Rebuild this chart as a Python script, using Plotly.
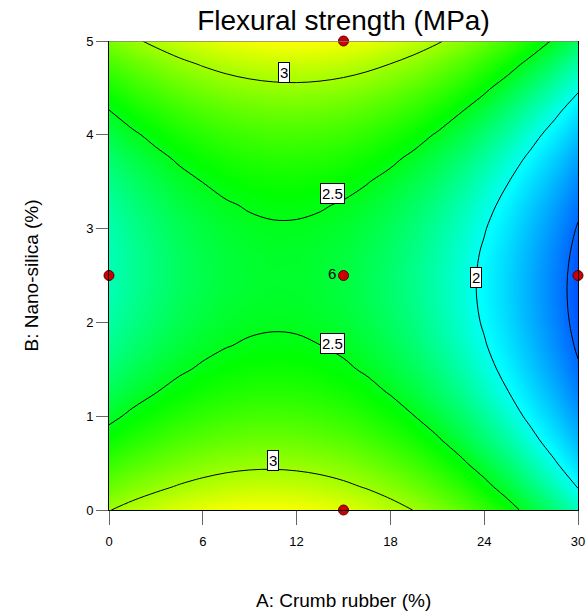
import plotly.graph_objects as go

# Factor grid (A: Crumb rubber %, B: Nano-silica %)
A_vals = [0, 1.5, 3, 4.5, 6, 7.5, 9, 10.5, 12, 13.5, 15,
          16.5, 18, 19.5, 21, 22.5, 24, 25.5, 27, 28.5, 30]
B_vals = [0, 0.25, 0.5, 0.75, 1, 1.25, 1.5, 1.75, 2, 2.25, 2.5,
          2.75, 3, 3.25, 3.5, 3.75, 4, 4.25, 4.5, 4.75, 5]

# Flexural strength (MPa); rows = B, cols = A
Z = [
    [2.993, 3.062, 3.118, 3.168, 3.206, 3.234, 3.249, 3.252, 3.242, 3.219, 3.183, 3.133, 3.071, 2.996, 2.908, 2.807, 2.693, 2.568, 2.431, 2.287, 2.130],
    [2.836, 2.905, 2.962, 3.013, 3.052, 3.081, 3.097, 3.100, 3.091, 3.069, 3.034, 2.985, 2.923, 2.849, 2.762, 2.661, 2.548, 2.424, 2.288, 2.145, 1.989],
    [2.694, 2.764, 2.822, 2.874, 2.914, 2.943, 2.960, 2.964, 2.955, 2.934, 2.900, 2.852, 2.791, 2.717, 2.631, 2.531, 2.419, 2.296, 2.161, 2.018, 1.863],
    [2.569, 2.640, 2.699, 2.752, 2.792, 2.822, 2.839, 2.844, 2.836, 2.816, 2.783, 2.735, 2.675, 2.602, 2.517, 2.418, 2.307, 2.185, 2.050, 1.908, 1.754],
    [2.460, 2.532, 2.591, 2.644, 2.685, 2.716, 2.734, 2.740, 2.733, 2.713, 2.681, 2.634, 2.575, 2.503, 2.419, 2.321, 2.210, 2.088, 1.954, 1.813, 1.660],
    [2.367, 2.439, 2.499, 2.553, 2.595, 2.627, 2.646, 2.652, 2.646, 2.627, 2.595, 2.549, 2.491, 2.420, 2.337, 2.239, 2.129, 2.008, 1.875, 1.735, 1.582],
    [2.289, 2.362, 2.423, 2.478, 2.520, 2.553, 2.573, 2.580, 2.575, 2.556, 2.525, 2.480, 2.423, 2.353, 2.270, 2.173, 2.064, 1.944, 1.812, 1.672, 1.520],
    [2.228, 2.302, 2.363, 2.419, 2.462, 2.495, 2.516, 2.524, 2.520, 2.502, 2.472, 2.428, 2.371, 2.302, 2.220, 2.124, 2.015, 1.896, 1.765, 1.626, 1.475],
    [2.182, 2.257, 2.319, 2.376, 2.420, 2.454, 2.475, 2.484, 2.480, 2.463, 2.434, 2.391, 2.335, 2.266, 2.185, 2.090, 1.982, 1.864, 1.733, 1.595, 1.445],
    [2.153, 2.229, 2.292, 2.349, 2.394, 2.429, 2.451, 2.460, 2.457, 2.441, 2.413, 2.371, 2.316, 2.248, 2.167, 2.073, 1.966, 1.848, 1.718, 1.581, 1.431],
    [2.139, 2.216, 2.280, 2.338, 2.383, 2.419, 2.442, 2.452, 2.450, 2.435, 2.407, 2.366, 2.312, 2.244, 2.164, 2.071, 1.965, 1.848, 1.718, 1.582, 1.433],
    [2.142, 2.219, 2.284, 2.343, 2.389, 2.426, 2.450, 2.461, 2.459, 2.445, 2.418, 2.377, 2.324, 2.257, 2.178, 2.085, 1.980, 1.864, 1.735, 1.600, 1.452],
    [2.160, 2.238, 2.304, 2.364, 2.411, 2.448, 2.473, 2.485, 2.484, 2.470, 2.444, 2.404, 2.352, 2.286, 2.207, 2.115, 2.011, 1.896, 1.768, 1.633, 1.486],
    [2.195, 2.274, 2.340, 2.401, 2.449, 2.487, 2.512, 2.525, 2.525, 2.512, 2.487, 2.448, 2.396, 2.331, 2.253, 2.162, 2.058, 1.944, 1.817, 1.683, 1.537],
    [2.245, 2.325, 2.392, 2.453, 2.502, 2.541, 2.567, 2.580, 2.581, 2.569, 2.545, 2.507, 2.456, 2.391, 2.314, 2.224, 2.121, 2.007, 1.881, 1.748, 1.603],
    [2.312, 2.392, 2.460, 2.522, 2.572, 2.612, 2.639, 2.653, 2.654, 2.643, 2.620, 2.582, 2.532, 2.468, 2.392, 2.303, 2.201, 2.088, 1.962, 1.830, 1.685],
    [2.394, 2.475, 2.544, 2.607, 2.657, 2.698, 2.726, 2.741, 2.743, 2.733, 2.710, 2.673, 2.624, 2.561, 2.485, 2.397, 2.296, 2.184, 2.059, 1.927, 1.783],
    [2.493, 2.575, 2.645, 2.708, 2.759, 2.800, 2.829, 2.845, 2.848, 2.839, 2.817, 2.781, 2.732, 2.670, 2.595, 2.507, 2.407, 2.296, 2.172, 2.041, 1.898],
    [2.607, 2.690, 2.761, 2.825, 2.877, 2.919, 2.948, 2.965, 2.969, 2.960, 2.939, 2.904, 2.856, 2.795, 2.721, 2.634, 2.534, 2.423, 2.300, 2.170, 2.028],
    [2.738, 2.822, 2.893, 2.958, 3.011, 3.054, 3.084, 3.101, 3.106, 3.098, 3.077, 3.043, 2.996, 2.936, 2.863, 2.776, 2.677, 2.567, 2.445, 2.316, 2.174],
    [2.885, 2.969, 3.041, 3.107, 3.160, 3.204, 3.235, 3.253, 3.258, 3.251, 3.231, 3.198, 3.152, 3.092, 3.020, 2.934, 2.836, 2.727, 2.605, 2.477, 2.336],
]

# Design points
pts_A = [0, 15, 15, 15, 30]
pts_B = [2.5, 0, 2.5, 5, 2.5]
pts_text = ["", "", "6", "", ""]

# Contour labels
lab_text = ["3", "2.5", "2", "2.5", "3"]
lab_A = [11.2, 14.3, 23.5, 14.3, 10.5]
lab_B = [4.66, 3.37, 2.48, 1.77, 0.53]

x_ticks = [0, 6, 12, 18, 24, 30]
y_ticks = [0, 1, 2, 3, 4, 5]

# colour stops in data units
zmin, zmax = 1.43, 3.26
stop_vals = [1.43, 1.98, 2.55, 3.26]
stop_cols = ["rgb(0,80,255)", "rgb(0,255,255)", "rgb(0,255,0)", "rgb(255,255,0)"]
cscale = [[(v - zmin) / (zmax - zmin), c] for v, c in zip(stop_vals, stop_cols)]

FONT = "Liberation Sans, Arial, sans-serif"
ML, MR, MT, MB = 109, 10, 41, 103

fig = go.Figure()
fig.add_trace(go.Heatmap(
    x=A_vals, y=B_vals, z=Z, zsmooth="best", colorscale=cscale,
    zmin=zmin, zmax=zmax, showscale=False, hoverinfo="skip"))
fig.add_trace(go.Contour(
    x=A_vals, y=B_vals, z=Z,
    contours=dict(start=1.5, end=3.0, size=0.5, coloring="none", showlabels=False),
    line=dict(color="black", width=1, smoothing=1.0),
    showscale=False, hoverinfo="skip"))
fig.add_trace(go.Scatter(
    x=pts_A, y=pts_B, mode="markers+text", text=pts_text,
    textposition="middle left", textfont=dict(family=FONT, size=15, color="black"),
    marker=dict(size=10, color="#CC0000", line=dict(color="#550000", width=1)),
    cliponaxis=False, hoverinfo="skip"))

annotations = []
for t, a, b in zip(lab_text, lab_A, lab_B):
    annotations.append(dict(x=a, y=b, xref="x", yref="y", text=t, showarrow=False,
                            font=dict(family=FONT, size=15, color="black"),
                            bgcolor="white", bordercolor="black", borderwidth=1,
                            borderpad=1))
annotations.append(dict(x=0.5, y=0, xref="paper", yref="paper", yshift=-90,
                        text="A: Crumb rubber (%)", showarrow=False,
                        xanchor="center", yanchor="middle",
                        font=dict(family=FONT, size=19, color="black")))
annotations.append(dict(x=0, y=0.5, xref="paper", yref="paper", xshift=-78,
                        text="B: Nano-silica (%)", showarrow=False, textangle=-90,
                        xanchor="center", yanchor="middle",
                        font=dict(family=FONT, size=19, color="black")))

fig.update_layout(
    width=588, height=613,
    margin=dict(l=ML, r=MR, t=MT, b=MB),
    paper_bgcolor="white", plot_bgcolor="white",
    showlegend=False,
    title=dict(text="Flexural strength (MPa)", x=0.5, xref="paper", xanchor="center",
               y=1 - 20 / 613, yanchor="middle",
               font=dict(family=FONT, size=28, color="black")),
    annotations=annotations,
    shapes=[dict(type="line", xref="x", yref="y", x0=0, x1=30, y0=5, y1=5,
                 line=dict(color="#808080", width=1.5))],
    xaxis=dict(range=[0, 30], tickvals=x_ticks, ticks="outside", ticklen=14,
               tickcolor="#666666", showgrid=False, zeroline=False,
               showline=True, linecolor="black", linewidth=1,
               ticklabelstandoff=5, automargin=False,
               tickfont=dict(family=FONT, size=13, color="black")),
    yaxis=dict(range=[0, 5], tickvals=y_ticks, ticks="outside", ticklen=12,
               tickcolor="#666666", showgrid=False, zeroline=False,
               showline=True, linecolor="black", linewidth=1, mirror=True,
               automargin=False,
               tickfont=dict(family=FONT, size=13, color="black")),
)

fig.write_html("out.html")
